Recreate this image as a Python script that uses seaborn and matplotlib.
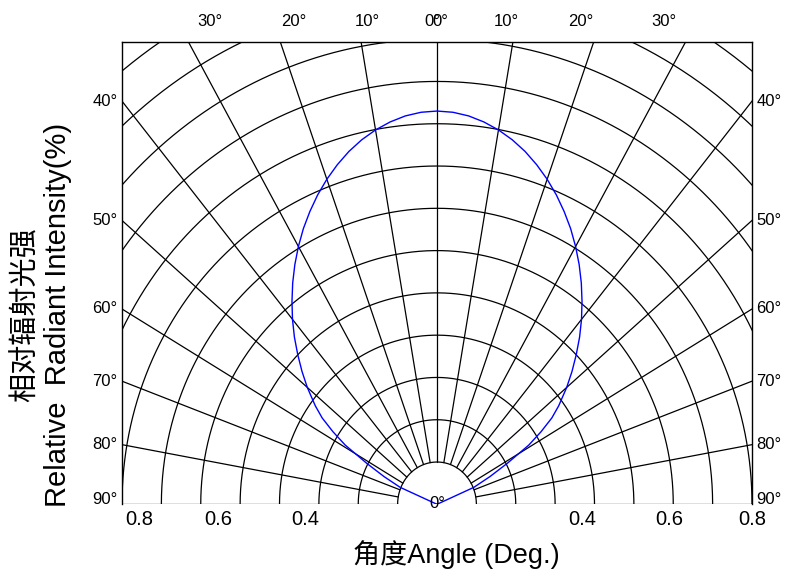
import numpy as np
import pandas as pd
import seaborn as sns
import matplotlib.pyplot as plt
import matplotlib.transforms as mtransforms

# radiation pattern (angle in degrees, relative radius), right half
angles_right = [0, 2.5, 5, 7.5, 10, 12.5, 15, 17.5, 20, 22.5, 25, 27.5, 30, 32.5, 35, 37.5,
                40, 42.5, 45, 47.5, 50, 53, 55, 57, 59, 61.5, 64, 66.8, 68]
radius_right = [0.930, 0.928, 0.922, 0.912, 0.899, 0.883, 0.864, 0.842, 0.818, 0.792, 0.764, 0.735,
                0.704, 0.672, 0.639, 0.605, 0.571, 0.536, 0.500, 0.465, 0.430, 0.387, 0.356, 0.315,
                0.272, 0.203, 0.150, 0.102, 0.0]

ring_radii = [0.1, 0.2, 0.3, 0.4, 0.5, 0.6, 0.7, 0.8, 0.9, 1.0, 1.1, 1.2, 1.3]
spoke_angles = [-90, -80, -70, -60, -50, -40, -30, -20, -10, 0, 10, 20, 30, 40, 50, 60, 70, 80, 90]

top_labels = [-30, -20, -10, 0, 10, 20, 30]
side_labels = [40, 50, 60, 70, 80, 90]

xtick_pos = [-0.755, -0.555, -0.335, 0.37, 0.59, 0.8]
xtick_lab = ['0.8', '0.6', '0.4', '0.4', '0.6', '0.8']

sns.set_theme(style='white')
plt.rcParams['font.family'] = ['Liberation Sans', 'Noto Sans CJK SC', 'DejaVu Sans']
plt.rcParams['text.color'] = 'black'

fig = plt.figure(figsize=(7.87, 5.69), dpi=100)
ax = fig.add_axes([122 / 787, 64.7 / 569, 630 / 787, 462.6 / 569])

# polar grid: rings and spokes
t = np.radians(np.linspace(-90, 90, 721))
for r in ring_radii:
    ax.plot(r * np.sin(t), r * np.cos(t), color='black', lw=0.9, zorder=1)
for a in spoke_angles:
    th = np.radians(a)
    ax.plot([0.1 * np.sin(th), 2.0 * np.sin(th)], [0.1 * np.cos(th), 2.0 * np.cos(th)],
            color='black', lw=0.9, zorder=1)

# the beam curve (left half mirrors the right half)
ang = np.array([-a for a in angles_right[::-1]] + angles_right[1:])
rad = np.array(radius_right[::-1] + radius_right[1:])
th = np.radians(ang)
df = pd.DataFrame({'x': rad * np.sin(th), 'y': rad * np.cos(th)})
sns.lineplot(data=df, x='x', y='y', sort=False, estimator=None, color='#0000ff', lw=1.0, ax=ax, zorder=3)

ax.set_xlim(-0.8, 0.8)
ax.set_ylim(0, 1.094)
for s in ['left', 'right', 'top']:
    ax.spines[s].set_color('black')
    ax.spines[s].set_linewidth(1.0)
ax.spines['bottom'].set_visible(False)

ax.set_yticks([])
ax.set_xticks(xtick_pos)
ax.set_xticklabels(xtick_lab, fontsize=14.5)
ax.tick_params(axis='x', length=0, pad=4, colors='black')
ax.set_xlabel('角度Angle (Deg.)', fontsize=19.5, color='black')
ax.xaxis.set_label_coords(0.53, -0.077)
ax.set_ylabel('')

# degree labels
top_tr = mtransforms.blended_transform_factory(ax.transData, ax.transAxes)
for a in top_labels:
    if a == 0:
        for dx in (-0.012, 0.008):
            ax.text(dx, 1.043, '0°', transform=top_tr, ha='center', va='center', fontsize=12, clip_on=False)
    else:
        ax.text(np.tan(np.radians(a)), 1.043, f'{abs(a)}°', transform=top_tr,
                ha='center', va='center', fontsize=12, clip_on=False)

side_tr = mtransforms.blended_transform_factory(ax.transAxes, ax.transData)
for a in side_labels:
    if a == 90:
        ys, va = 0.0, 'baseline'
    else:
        ys, va = 0.8 / np.tan(np.radians(a)), 'center'
    ax.text(-0.007, ys, f'{a}°', transform=side_tr, ha='right', va=va, fontsize=12, clip_on=False)
    ax.text(1.007, ys, f'{a}°', transform=side_tr, ha='left', va=va, fontsize=12, clip_on=False)

ax.text(0, 0.002, '0°', ha='center', va='center', fontsize=12, clip_on=False)

fig.text(42 / 787, 1 - 315 / 569, '相对辐射光强\nRelative  Radiant Intensity(%)', rotation=90,
         ha='center', va='center', fontsize=21, linespacing=1.2, multialignment='center')

fig.savefig('out.png', dpi=100, facecolor='white')
